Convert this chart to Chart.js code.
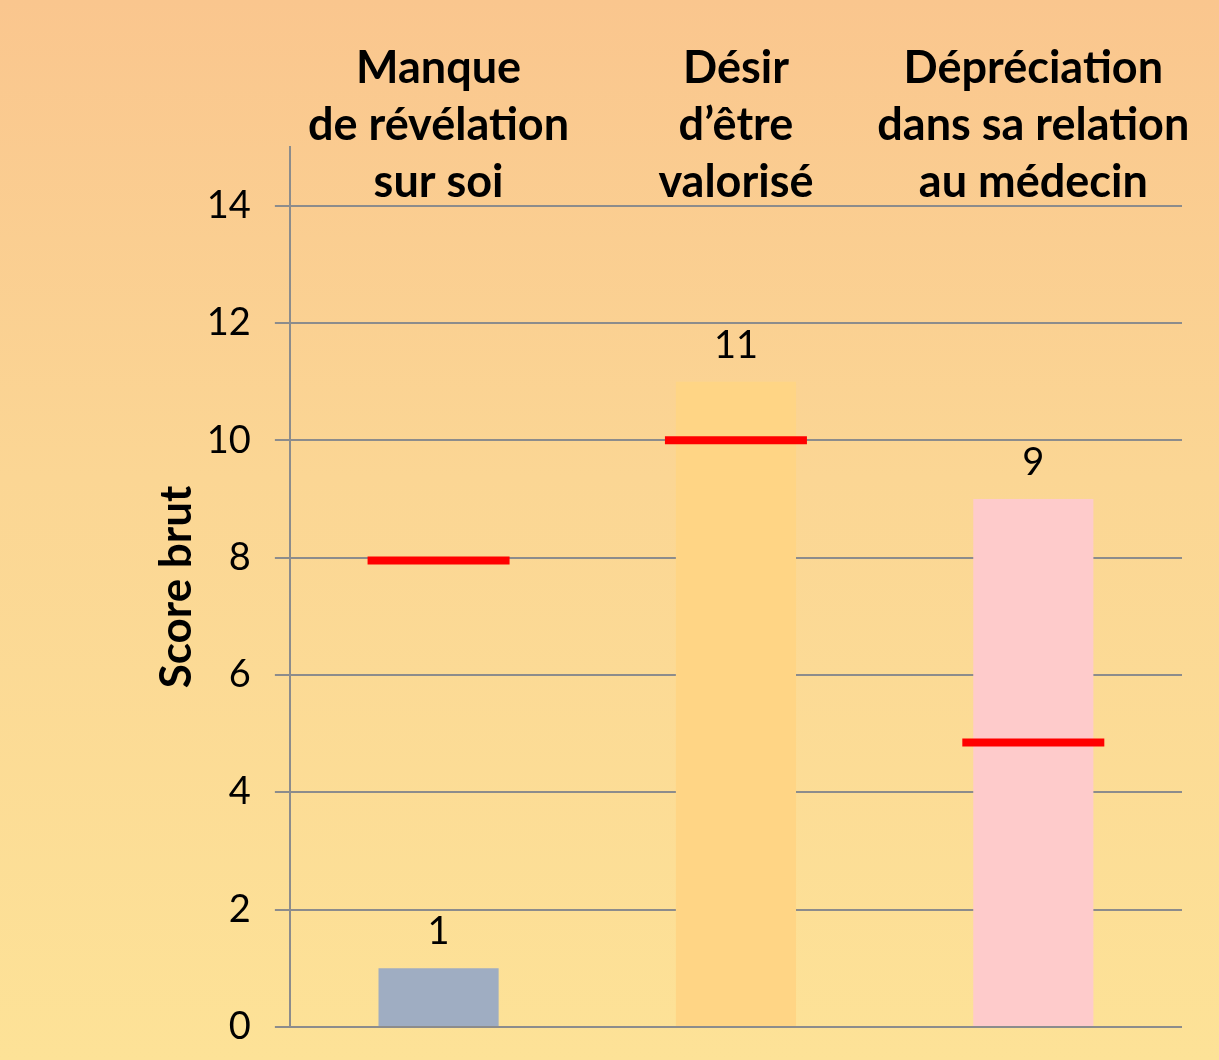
<!DOCTYPE html>
<html>
<head>
<meta charset="utf-8">
<script src="https://cdn.jsdelivr.net/npm/chart.js@4.4.1/dist/chart.umd.min.js"></script>
<style>
  html, body { margin: 0; padding: 0; }
  body { width: 1219px; height: 1060px; background: linear-gradient(to bottom, #FAC68E 0%, #FBD694 45%, #FDE297 100%); }
  #wrap { position: relative; width: 1219px; height: 1060px; }
</style>
</head>
<body>
<div id="wrap"><canvas id="c"></canvas></div>
<script>
const categories = [
  ["Manque", "de révélation", "sur soi"],
  ["Désir", "d’être", "valorisé"],
  ["Dépréciation", "dans sa relation", "au médecin"]
];
const scores = [1, 11, 9];
const referenceValues = [7.95, 10, 4.85];
const barColors = ["#9FADC2", "#FFD585", "#FECBCB"];
const yMin = 0, yMax = 15, yStep = 2, yTickMax = 14;
const yTitle = "Score brut";

const FONT = "Lato";

const valueLabels = {
  id: 'valueLabels',
  afterDatasetsDraw(chart) {
    const ctx = chart.ctx;
    const meta = chart.getDatasetMeta(1);
    ctx.save();
    ctx.font = "38px " + FONT;
    ctx.fillStyle = "#000";
    ctx.textAlign = "center";
    ctx.textBaseline = "middle";
    meta.data.forEach((bar, i) => {
      ctx.fillText(String(scores[i]), bar.x, bar.y - 36);
    });
    ctx.restore();
  }
};

const categoryLabels = {
  id: 'categoryLabels',
  afterDraw(chart) {
    const ctx = chart.ctx;
    const xs = chart.scales.x;
    const top = chart.chartArea.top;
    ctx.save();
    ctx.font = "bold 45px " + FONT;
    ctx.fillStyle = "#000";
    ctx.textAlign = "center";
    ctx.textBaseline = "middle";
    categories.forEach((lines, i) => {
      const x = xs.getPixelForValue(i);
      lines.forEach((line, j) => {
        ctx.fillText(line, x, top - 79 + j * 57);
      });
    });
    ctx.restore();
  }
};

new Chart(document.getElementById('c'), {
  data: {
    labels: categories.map(l => l.join(' ')),
    datasets: [
      {
        type: 'line',
        data: referenceValues,
        showLine: false,
        pointStyle: 'line',
        pointRadius: 71,
        pointHoverRadius: 71,
        pointBorderWidth: 8,
        pointHoverBorderWidth: 8,
        borderColor: '#FF0000',
        backgroundColor: '#FF0000',
        order: 0
      },
      {
        type: 'bar',
        data: scores,
        backgroundColor: barColors,
        borderWidth: 0,
        barPercentage: 0.404,
        categoryPercentage: 1.0,
        order: 1
      }
    ]
  },
  options: {
    responsive: true,
    maintainAspectRatio: false,
    animation: false,
    events: [],
    layout: { autoPadding: false, padding: { top: 147, left: 150, right: 37, bottom: 0 } },
    plugins: { legend: { display: false }, tooltip: { enabled: false } },
    scales: {
      x: {
        display: false,
        offset: true
      },
      y: {
        min: yMin,
        max: yMax,
        afterBuildTicks(scale) {
          scale.ticks = scale.ticks.filter(t => t.value <= yTickMax);
        },
        ticks: {
          stepSize: yStep,
          color: '#000',
          font: { family: FONT, size: 38, lineHeight: 0.48 },
          padding: 24
        },
        grid: { color: '#8C8C8C', lineWidth: 2, tickLength: 15 },
        border: { color: '#8C8C8C', width: 2 },
        title: {
          display: true,
          text: yTitle,
          color: '#000',
          font: { family: FONT, size: 44, weight: 'bold' },
          padding: { top: 0, bottom: -20 }
        }
      }
    }
  },
  plugins: [valueLabels, categoryLabels]
});
</script>
</body>
</html>
